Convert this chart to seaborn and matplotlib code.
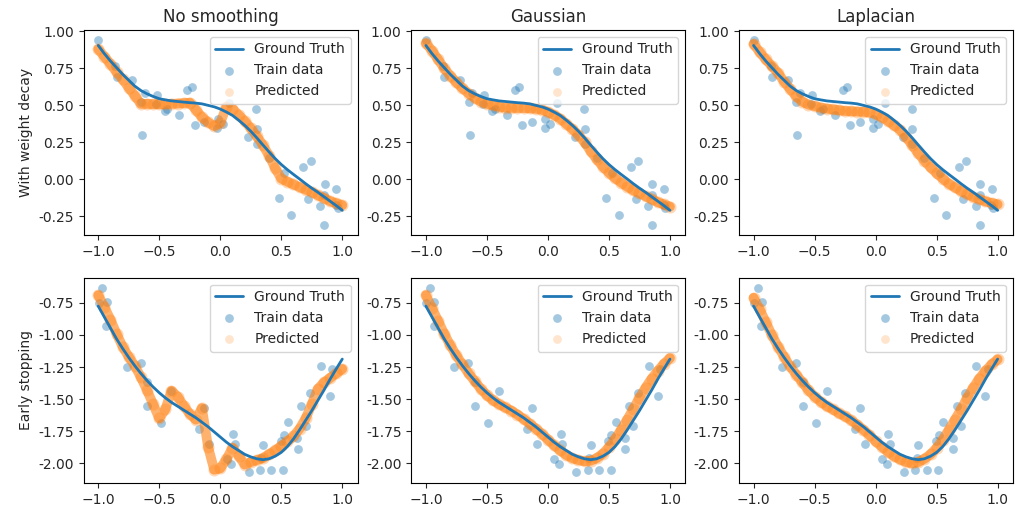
import matplotlib
matplotlib.use("Agg")
import matplotlib.pyplot as plt
import numpy as np
import seaborn as sns

COLUMNS = ["No smoothing", "Gaussian", "Laplacian"]
ROWS = ["With weight decay", "Early stopping"]

# shared x grid for the ground truth curve and the predictions
X_GRID = [-1.00, -0.95, -0.90, -0.85, -0.80, -0.75, -0.70, -0.65, -0.60, -0.55,
          -0.50, -0.45, -0.40, -0.35, -0.30, -0.25, -0.20, -0.15, -0.10, -0.05,
          0.00, 0.05, 0.10, 0.15, 0.20, 0.25, 0.30, 0.35, 0.40, 0.45,
          0.50, 0.55, 0.60, 0.65, 0.70, 0.75, 0.80, 0.85, 0.90, 0.95, 1.00]

# --- weight decay row ---
gt_top = [0.905, 0.85, 0.80, 0.755, 0.71, 0.67, 0.63, 0.60, 0.578, 0.56,
          0.545, 0.537, 0.53, 0.526, 0.522, 0.518, 0.515, 0.51, 0.50, 0.49,
          0.475, 0.455, 0.432, 0.40, 0.365, 0.325, 0.28, 0.232, 0.185, 0.14,
          0.10, 0.065, 0.033, 0.002, -0.03, -0.06, -0.088, -0.118, -0.148, -0.178, -0.21]

train_top_x = [-1.00, -0.86, -0.85, -0.72, -0.64, -0.65, -0.62, -0.52, -0.53, -0.455,
               -0.435, -0.336, -0.27, -0.235, -0.21, -0.13, -0.025, -0.02, 0.02, 0.075,
               0.225, 0.295, 0.30, 0.30, 0.40, 0.48, 0.525, 0.58, 0.68, 0.74,
               0.72, 0.82, 0.855, 0.853, 0.853, 0.952, 0.948, 0.962]
train_top_y = [0.945, 0.768, 0.689, 0.673, 0.298, 0.523, 0.586, 0.568, 0.507, 0.459,
               0.472, 0.432, 0.602, 0.621, 0.366, 0.386, 0.348, 0.41, 0.371, 0.514,
               0.284, 0.473, 0.341, 0.239, 0.143, -0.125, 0.041, -0.239, 0.08, 0.125,
               -0.136, -0.182, -0.032, -0.107, -0.311, -0.068, -0.175, -0.197]

pred_top_none = [0.88, 0.83, 0.78, 0.725, 0.675, 0.62, 0.565, 0.51, 0.51, 0.508,
                 0.507, 0.508, 0.51, 0.512, 0.515, 0.518, 0.47, 0.42, 0.385, 0.36,
                 0.38, 0.49, 0.478, 0.435, 0.393, 0.345, 0.29, 0.23, 0.16, 0.075,
                 0.005, -0.016, -0.035, -0.053, -0.07, -0.086, -0.108, -0.128, -0.148, -0.162, -0.175]
pred_top_gauss = [0.92, 0.87, 0.81, 0.75, 0.70, 0.655, 0.615, 0.58, 0.55, 0.525,
                  0.51, 0.50, 0.49, 0.485, 0.483, 0.482, 0.482, 0.48, 0.477, 0.47,
                  0.455, 0.435, 0.41, 0.375, 0.34, 0.30, 0.25, 0.19, 0.135, 0.085,
                  0.045, 0.008, -0.022, -0.05, -0.075, -0.095, -0.115, -0.135, -0.155, -0.17, -0.185]
pred_top_lap = [0.915, 0.86, 0.81, 0.765, 0.72, 0.66, 0.61, 0.56, 0.525, 0.505,
                0.495, 0.485, 0.478, 0.472, 0.467, 0.462, 0.46, 0.458, 0.456, 0.452,
                0.44, 0.42, 0.395, 0.365, 0.335, 0.285, 0.23, 0.175, 0.125, 0.08,
                0.04, 0.005, -0.03, -0.055, -0.08, -0.10, -0.12, -0.135, -0.15, -0.16, -0.17]

# --- early stopping row ---
gt_bot = [-0.775, -0.86, -0.945, -1.03, -1.105, -1.175, -1.24, -1.30, -1.355, -1.405,
          -1.45, -1.49, -1.525, -1.555, -1.585, -1.615, -1.645, -1.68, -1.715, -1.755,
          -1.795, -1.835, -1.87, -1.90, -1.93, -1.95, -1.965, -1.972, -1.965, -1.945,
          -1.915, -1.87, -1.81, -1.74, -1.665, -1.59, -1.51, -1.43, -1.345, -1.265, -1.188]

train_bot_x = [-0.965, -0.997, -0.93, -0.935, -0.766, -0.652, -0.598, -0.598, -0.489, -0.40,
               -0.172, -0.13, -0.09, 0.053, 0.09, 0.105, 0.118, 0.234, 0.326, 0.35,
               0.338, 0.42, 0.514, 0.494, 0.521, 0.554, 0.632, 0.635, 0.665, 0.735,
               0.70, 0.826, 0.90, 0.917]
train_bot_y = [-0.637, -0.748, -0.741, -0.929, -1.247, -1.221, -1.363, -1.555, -1.685, -1.44,
               -1.73, -1.568, -1.852, -1.969, -2.005, -1.768, -1.848, -2.065, -2.05, -1.86,
               -1.955, -2.05, -2.05, -1.826, -1.778, -1.68, -1.80, -1.89, -1.555, -1.455,
               -1.71, -1.238, -1.478, -1.266]

pred_bot_none = [-0.69, -0.78, -0.88, -0.99, -1.09, -1.17, -1.24, -1.33, -1.43, -1.54,
                 -1.65, -1.58, -1.435, -1.48, -1.55, -1.615, -1.66, -1.57, -1.87, -2.05,
                 -2.04, -1.97, -1.88, -1.94, -2.01, -1.99, -1.975, -1.96, -1.93, -1.90,
                 -1.865, -1.83, -1.79, -1.73, -1.65, -1.54, -1.42, -1.37, -1.335, -1.30, -1.265]
pred_bot_gauss = [-0.69, -0.79, -0.89, -0.99, -1.08, -1.16, -1.23, -1.30, -1.36, -1.42,
                  -1.47, -1.51, -1.54, -1.565, -1.59, -1.62, -1.655, -1.69, -1.73, -1.77,
                  -1.815, -1.86, -1.90, -1.935, -1.96, -1.975, -1.985, -1.98, -1.96, -1.925,
                  -1.875, -1.81, -1.74, -1.66, -1.575, -1.49, -1.41, -1.34, -1.28, -1.225, -1.18]
pred_bot_lap = [-0.71, -0.80, -0.90, -1.00, -1.09, -1.17, -1.245, -1.31, -1.37, -1.43,
                -1.48, -1.52, -1.555, -1.58, -1.61, -1.635, -1.665, -1.70, -1.74, -1.78,
                -1.83, -1.87, -1.91, -1.945, -1.97, -1.99, -2.00, -1.99, -1.965, -1.93,
                -1.88, -1.815, -1.74, -1.66, -1.58, -1.49, -1.41, -1.34, -1.28, -1.23, -1.19]

ROW_DATA = [
    (gt_top, train_top_x, train_top_y, [pred_top_none, pred_top_gauss, pred_top_lap]),
    (gt_bot, train_bot_x, train_bot_y, [pred_bot_none, pred_bot_gauss, pred_bot_lap]),
]
YLIMS = [(-0.38, 1.01), (-2.155, -0.553)]
YTICKS = [[-0.25, 0.0, 0.25, 0.5, 0.75, 1.0], [-2.0, -1.75, -1.5, -1.25, -1.0, -0.75]]

sns.set_style("ticks")
plt.rcParams["font.family"] = ["DejaVu Sans"]

fig, axes = plt.subplots(2, 3, figsize=(10.19, 5.07), dpi=100)
fig.subplots_adjust(left=0.082, right=0.994, top=0.941, bottom=0.047,
                    wspace=0.196, hspace=0.205)

for r, (gt, tx, ty, preds) in enumerate(ROW_DATA):
    for c in range(3):
        ax = axes[r, c]
        # soft band under the prediction markers so the dense cloud reads as one trace
        sns.lineplot(x=X_GRID, y=preds[c], ax=ax, color="#ff7f0e", linewidth=7,
                     alpha=0.6, sort=False, legend=False, solid_capstyle="round",
                     solid_joinstyle="round")
        sns.lineplot(x=X_GRID, y=gt, ax=ax, color="#1f77b4", linewidth=2,
                     label="Ground Truth", sort=False)
        sns.scatterplot(x=tx, y=ty, ax=ax, color="#1f77b4", alpha=0.4, s=40,
                        linewidth=0, label="Train data")
        sns.scatterplot(x=X_GRID, y=preds[c], ax=ax, color="#ff7f0e", alpha=0.3,
                        s=75, linewidth=0, label="Predicted")
        ax.set_xlim(-1.12, 1.125)
        ax.set_ylim(*YLIMS[r])
        ax.set_xticks([-1.0, -0.5, 0.0, 0.5, 1.0])
        ax.set_yticks(YTICKS[r])
        ax.yaxis.set_major_formatter(matplotlib.ticker.FormatStrFormatter("%.2f"))
        ax.tick_params(labelsize=10)
        for sp in ax.spines.values():
            sp.set_color("black")
            sp.set_linewidth(0.8)
        leg = ax.legend(loc="upper right", fontsize=10)
        # legend marker for the predictions is paler, as in the original
        handles = leg.legend_handles
        handles[2].set_alpha(0.2)
        handles[2].set_sizes([40])
        if r == 0:
            ax.set_title(COLUMNS[c], fontsize=12)
        if c == 0:
            ax.set_ylabel(ROWS[r], fontsize=10)

fig.savefig("out.png", dpi=100)
